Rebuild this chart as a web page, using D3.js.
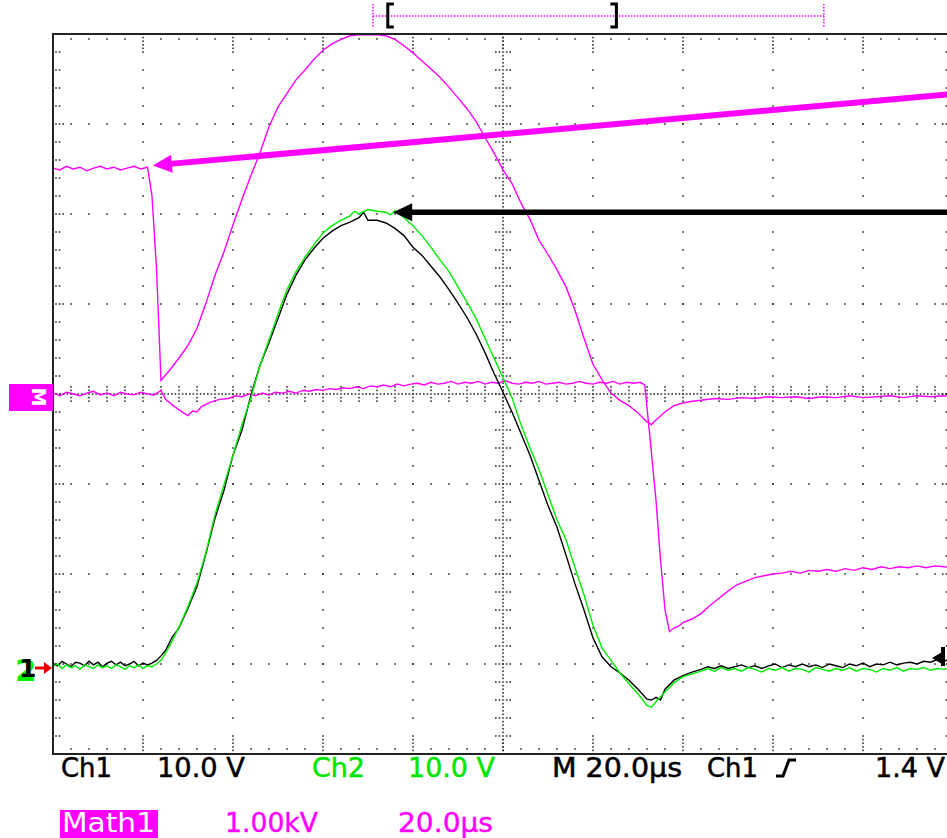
<!DOCTYPE html>
<html lang="en">
<head>
<meta charset="UTF-8">
<title>Scope capture</title>
<script src="https://cdn.jsdelivr.net/npm/d3@7/dist/d3.min.js"></script>
<style>
  body { margin: 0; background: #fff; }
  text { font-family: "DejaVu Sans", "Liberation Sans", sans-serif; }
</style>
</head>
<body>
<svg id="main" width="947" height="838"></svg>
<script>
// time in µs (0 = left edge of screen), Ch1/Ch2 in volts, Math1 in kV
var ch1Trace = [[0,0.1],[1,-0.2],[2,0.3],[3,0],[4,-0.3],[5,0.2],[6,0.1],[7,-0.2],[8,0.3],[9,-0.1],[10,0.2],[11,-0.3],[12,0.1],[13,0.3],[14,-0.1],[15,0.2],[16,-0.2],[17,0],[18,0.3],[19,-0.2],[20,0.1],[21,-0.1],[22,0.1],[23,0.4],[24,0.9],[25,1.5],[26.5,3.0],[28,4.0],[30,6.2],[32,8.6],[34,12.3],[36,16.2],[38,19.3],[40,23.2],[42,26.0],[44,29.9],[46,33.2],[48,35.7],[50,38.4],[52,41.1],[54,43.2],[56,44.9],[58,46.2],[60,47.3],[62,48.1],[64,48.7],[66,49.1],[68,49.6],[69,50.2],[70,49.3],[72,49.3],[74,49.0],[76,48.4],[78,47.6],[80,46.3],[82,45.4],[84,44.2],[86,43.0],[88,41.6],[90,40.1],[92,38.5],[94,36.7],[96,34.6],[98,32.3],[100,30.2],[102,28.0],[104,25.6],[106,23.2],[108,20.4],[110,17.6],[112,15.2],[114,12.1],[116,8.9],[118,6.0],[120,2.9],[122,0.8],[124,-0.3],[126,-1.0],[128,-1.8],[130,-2.8],[132,-3.9],[133,-4.0],[134,-3.7],[135,-4.0],[136,-2.8],[138,-1.8],[140,-1.3],[142,-0.9],[144,-0.6],[145.5,-0.3],[147,-0.5],[148.5,-0.2],[150,-0.5],[151.5,-0.3],[153,-0.1],[154.5,-0.4],[156,-0.2],[157.5,-0.5],[159,-0.2],[160.5,0],[162,-0.4],[163.5,-0.1],[165,-0.3],[166.5,0],[168,-0.3],[169.5,-0.1],[171,-0.4],[172.5,0],[174,-0.2],[175.5,-0.4],[177,0],[178.5,-0.2],[180,0.1],[181.5,-0.3],[183,0],[184.5,-0.1],[186,0.2],[187.5,-0.1],[189,0.1],[190.5,0.2],[192,0],[193.5,0.3],[195,0.2],[196.5,0.5],[198,0.3],[199.5,0.6]];

var ch2Trace = [[0,-0.3],[1,0],[2,-0.5],[3,-0.1],[4,-0.4],[5,-0.2],[6,-0.6],[7,-0.1],[8,-0.3],[9,-0.5],[10,-0.1],[11,-0.4],[12,-0.2],[13,-0.5],[14,-0.1],[15,-0.3],[16,-0.6],[17,-0.2],[18,-0.4],[19,-0.1],[20,-0.5],[21,-0.2],[22,-0.3],[23,0],[24,0.4],[25,1.2],[26,2.1],[28,4.1],[30,6.4],[32,9.0],[34,12.4],[36,16.6],[38,19.9],[40,23.2],[42,26.6],[44,29.6],[46,33.2],[48,36.0],[50,38.9],[52,41.6],[54,43.6],[56,45.2],[58,46.6],[60,47.9],[62,48.7],[64,49.3],[66,49.8],[67,50.3],[68,50.0],[70,50.5],[72,50.3],[74,50.2],[75,49.9],[76,50.4],[78,49.6],[80,48.7],[82,47.6],[84,46.3],[86,44.9],[88,43.6],[90,41.9],[92,40.2],[94,38.4],[96,36.2],[98,34.0],[100,31.8],[102,29.6],[104,26.6],[106,24.0],[108,21.6],[110,18.8],[112,16.0],[114,13.8],[116,10.7],[118,7.7],[120,4.3],[122,1.8],[124,0.4],[126,-1.0],[128,-2.2],[130,-3.3],[132,-4.6],[133,-4.8],[134,-4.2],[136,-3.1],[138,-2.1],[140,-1.4],[142,-1.1],[144,-0.8],[145.5,-0.5],[147,-0.8],[148.5,-0.4],[150,-0.7],[151.5,-0.5],[153,-0.8],[154.5,-0.4],[156,-0.6],[157.5,-0.9],[159,-0.5],[160.5,-0.7],[162,-0.4],[163.5,-0.8],[165,-0.5],[166.5,-0.6],[168,-0.9],[169.5,-0.4],[171,-0.6],[172.5,-0.8],[174,-0.5],[175.5,-0.7],[177,-0.4],[178.5,-0.8],[180,-0.5],[181.5,-0.6],[183,-0.9],[184.5,-0.5],[186,-0.7],[187.5,-0.4],[189,-0.8],[190.5,-0.5],[192,-0.6],[193.5,-0.4],[195,-0.7],[196.5,-0.5],[198,-0.6],[199.5,-0.4]];

var mathTraceA = [[0,2.51],[1.5,2.49],[3,2.53],[4.5,2.50],[6,2.52],[7.5,2.48],[9,2.51],[10.5,2.53],[12,2.50],[13.5,2.52],[15,2.49],[16.5,2.51],[18,2.53],[19.5,2.50],[21,2.52],[22,2.20],[23,1.40],[24,0.15],[24.5,0.18],[26,0.27],[28,0.40],[30,0.54],[32,0.73],[34,1.01],[36,1.32],[38,1.58],[40,1.88],[42,2.16],[44,2.43],[46,2.68],[48,2.97],[50,3.19],[52,3.34],[54,3.49],[56,3.60],[58,3.72],[60,3.82],[62,3.89],[64,3.94],[66,3.98],[68,3.99],[70,3.99],[72,3.99],[74,3.98],[76,3.94],[78,3.87],[80,3.79],[82,3.70],[84,3.61],[86,3.52],[88,3.41],[90,3.29],[92,3.17],[94,3.03],[96,2.85],[98,2.68],[100,2.49],[102,2.34],[104,2.12],[106,1.94],[108,1.71],[110,1.55],[112,1.38],[114,1.19],[116,0.93],[118,0.62],[120,0.33],[122,0.16],[124,0.01],[126,-0.07],[128,-0.13],[130,-0.21],[132,-0.31],[133,-0.34],[134,-0.29],[136,-0.20],[138,-0.13],[140,-0.10],[142,-0.08],[144,-0.07],[147,-0.05],[150,-0.06],[153,-0.04],[156,-0.05],[159,-0.03],[162,-0.04],[165,-0.03],[168,-0.05],[171,-0.03],[174,-0.04],[177,-0.02],[180,-0.04],[183,-0.03],[186,-0.02],[189,-0.04],[192,-0.02],[195,-0.03],[198,-0.02],[200,-0.03]];

var mathTraceB = [[0,0.01],[1.5,-0.02],[3,0.02],[4.5,0],[6,-0.02],[7.5,0.01],[9,0.03],[10.5,-0.01],[12,0.01],[13.5,-0.02],[15,0.02],[16.5,0],[18,-0.01],[19.5,0.02],[21,0],[22.5,-0.01],[24,0.04],[25,-0.06],[27,-0.14],[29,-0.21],[30,-0.24],[31,-0.19],[32,-0.2],[33,-0.14],[35,-0.09],[37,-0.06],[39,-0.05],[40.5,-0.02],[42,-0.03],[43.5,0],[45,-0.02],[46.5,0.01],[48,-0.01],[49.5,0.02],[51,0.01],[52.5,0.03],[54,0.01],[55.5,0.04],[57,0.03],[58.5,0.05],[60,0.04],[61.5,0.06],[63,0.05],[64.5,0.07],[66,0.06],[67.5,0.08],[69,0.06],[70.5,0.09],[72,0.08],[73.5,0.1],[75,0.08],[76.5,0.11],[78,0.09],[79.5,0.11],[81,0.12],[82.5,0.1],[84,0.13],[85.5,0.11],[87,0.12],[88.5,0.14],[90,0.11],[91.5,0.13],[93,0.12],[94.5,0.14],[96,0.11],[97.5,0.13],[99,0.12],[100.5,0.15],[102,0.12],[103.5,0.11],[105,0.13],[106.5,0.12],[108,0.14],[109.5,0.11],[111,0.12],[112.5,0.13],[114,0.11],[115.5,0.12],[117,0.14],[118.5,0.12],[120,0.11],[121.5,0.13],[123,0.12],[124.5,0.14],[126,0.11],[127.5,0.13],[129,0.12],[130.5,0.13],[131.5,0.1],[132.5,-0.40],[134,-1.18],[135,-1.84],[136,-2.40],[137,-2.64],[138,-2.60],[139,-2.58],[140,-2.54],[142,-2.50],[144,-2.44],[146,-2.35],[148,-2.27],[150,-2.19],[152,-2.12],[154,-2.08],[156,-2.04],[158,-2.02],[160,-2.0],[162,-1.99],[164,-1.97],[166,-1.99],[168,-1.96],[170,-1.97],[172,-1.95],[174,-1.97],[176,-1.94],[178,-1.96],[180,-1.93],[182,-1.95],[184,-1.92],[186,-1.94],[188,-1.92],[190,-1.93],[192,-1.91],[194,-1.93],[196,-1.91],[198,-1.92],[200,-1.93]];

// annotation arrows: [tail, tip] in data units
var mathArrow = [[199, 3.33], [22.2, 2.54]];
var ch2Arrow = [[199, 50.2], [75.6, 50.2]];
var viewSpan = [71.1, 171.3];      // record view bar at top
var viewBrackets = [74.4, 125.2];
var triggerLevel = 1.0;

var bottomLabels = [
  {t: "Ch1", x: 61, w: 51, c: "#000"},
  {t: "10.0 V", x: 157, w: 88, c: "#000"},
  {t: "Ch2", x: 312, w: 53, c: "#00e600"},
  {t: "10.0 V", x: 408, w: 87, c: "#00e600"},
  {t: "M 20.0\u00b5s", x: 552, w: 130, c: "#000"},
  {t: "Ch1", x: 707, w: 51, c: "#000"},
  {t: "1.4 V", x: 875, w: 70, c: "#000"}
];
var mathLabels = [
  {t: "1.00kV", x: 225, w: 93},
  {t: "20.0\u00b5s", x: 398, w: 95}
];

var svg = d3.select('svg#main');
var xLeft = 53, yTop = 34, div = 90;
var x = d3.scaleLinear().domain([0, 200]).range([xLeft, xLeft + 10 * div]);
var yCh = d3.scaleLinear().domain([-10, 70]).range([yTop + 8 * div, yTop]);
var yMath = d3.scaleLinear().domain([-4, 4]).range([yTop + 8 * div, yTop]);
var yBot = yCh(-10), xRight = x(200);
var MAG = "#ff00ff", GRN = "#00ee00";

svg.append("rect").attr("width", 947).attr("height", 838).attr("fill", "#fff");

// ---- graticule dots
var dots = [];
var majX = d3.range(20, 200, 20), majV = d3.range(0, 70, 10);
var minX = d3.range(4, 200, 4), minV = d3.range(-8, 70, 2);
majX.forEach(function(t) {
  if (t === 100) return;
  minV.forEach(function(v) { dots.push([x(t), yCh(v)]); });
});
majV.forEach(function(v) {
  if (v === 30) return;
  minX.forEach(function(t) { dots.push([x(t), yCh(v)]); });
});
// centre cross, dense
d3.range(0.8, 200, 0.8).forEach(function(t) { dots.push([x(t), yCh(30)]); });
d3.range(-9.6, 70, 0.4).forEach(function(v) { dots.push([x(100), yCh(v)]); });
minX.forEach(function(t) { [-7.2, -3.6, 3.6, 7.2].forEach(function(o) { dots.push([x(t), yCh(30) + o]); }); });
minV.forEach(function(v) { [-7.2, -3.6, 3.6, 7.2].forEach(function(o) { dots.push([x(100) + o, yCh(v)]); }); });
// edge ticks
minX.forEach(function(t) {
  var maj = t % 20 === 0;
  (maj ? [3.6, 7.2, 10.8, 14.4] : [5]).forEach(function(o) {
    dots.push([x(t), yTop + o]); dots.push([x(t), yBot - o]);
  });
});
minV.forEach(function(v) {
  var maj = v % 10 === 0;
  (maj ? [3, 6.6, 10.2] : [3, 6.6]).forEach(function(o) {
    dots.push([xLeft + o, yCh(v)]); dots.push([xRight - o, yCh(v)]);
  });
});

svg.append("g").selectAll("rect").data(dots).enter().append("rect")
  .attr("x", function(d) { return d[0] - 0.8; })
  .attr("y", function(d) { return d[1] - 0.8; })
  .attr("width", 1.6).attr("height", 1.6)
  .attr("fill", "#333");

// ---- traces
svg.append("clipPath").attr("id", "scr").append("rect")
  .attr("x", xLeft).attr("y", yTop - 2).attr("width", xRight - xLeft).attr("height", yBot - yTop + 2);

var lineCh = d3.line().x(function(d) { return x(d[0]); }).y(function(d) { return yCh(d[1]); });
var lineMath = d3.line().x(function(d) { return x(d[0]); }).y(function(d) { return yMath(d[1]); });

var tr = svg.append("g").attr("clip-path", "url(#scr)").attr("fill", "none").attr("stroke-width", 1.4);
tr.append("path").attr("d", lineMath(mathTraceB)).attr("stroke", MAG);
tr.append("path").attr("d", lineMath(mathTraceA)).attr("stroke", MAG);
tr.append("path").attr("d", lineCh(ch1Trace)).attr("stroke", "#000");
tr.append("path").attr("d", lineCh(ch2Trace)).attr("stroke", GRN);

// ---- frame
svg.append("path")
  .attr("d", "M" + xRight + "," + yTop + "H" + xLeft + "V" + yBot + "H" + xRight)
  .attr("fill", "none").attr("stroke", "#222").attr("stroke-width", 2);

// ---- annotation arrows
function arrow(p0, p1, color, width, head, half) {
  var dx = p1[0] - p0[0], dy = p1[1] - p0[1], L = Math.sqrt(dx * dx + dy * dy);
  var ux = dx / L, uy = dy / L;
  var bx = p1[0] - ux * head, by = p1[1] - uy * head;
  svg.append("line").attr("x1", p0[0]).attr("y1", p0[1]).attr("x2", bx + ux * 2).attr("y2", by + uy * 2)
    .attr("stroke", color).attr("stroke-width", width);
  svg.append("polygon").attr("fill", color)
    .attr("points", [[p1[0], p1[1]], [bx - uy * half, by + ux * half], [bx + uy * half, by - ux * half]].join(" "));
}
arrow([x(mathArrow[0][0]), yMath(mathArrow[0][1])], [x(mathArrow[1][0]), yMath(mathArrow[1][1])], MAG, 6, 19, 9);
arrow([x(ch2Arrow[0][0]), yCh(ch2Arrow[0][1])], [x(ch2Arrow[1][0]), yCh(ch2Arrow[1][1])], "#000", 5.5, 19, 9);

// ---- record view bar
var vb = svg.append("g");
vb.append("line").attr("x1", x(viewSpan[0])).attr("x2", x(viewSpan[1])).attr("y1", 16).attr("y2", 16)
  .attr("stroke", MAG).attr("stroke-width", 1.5).attr("stroke-dasharray", "1.5,1.5");
viewSpan.forEach(function(t) {
  vb.append("line").attr("x1", x(t)).attr("x2", x(t)).attr("y1", 4).attr("y2", 28)
    .attr("stroke", MAG).attr("stroke-width", 1.5).attr("stroke-dasharray", "1.5,1.5");
});
vb.append("path").attr("d", "M" + (x(viewBrackets[0]) + 6) + ",4H" + x(viewBrackets[0]) + "V27H" + (x(viewBrackets[0]) + 6))
  .attr("fill", "none").attr("stroke", "#000").attr("stroke-width", 3);
vb.append("path").attr("d", "M" + (x(viewBrackets[1]) - 6) + ",4H" + x(viewBrackets[1]) + "V27H" + (x(viewBrackets[1]) - 6))
  .attr("fill", "none").attr("stroke", "#000").attr("stroke-width", 3);

// ---- ground / math markers on the left
var g0 = yCh(0);
svg.append("text").attr("x", 15).attr("y", g0 + 17).attr("font-size", 31).attr("font-weight", "bold")
  .attr("fill", GRN).text("2");
svg.append("text").attr("x", 19).attr("y", g0 + 13).attr("font-size", 25).attr("font-weight", "bold")
  .attr("fill", "#000").text("1");
svg.append("line").attr("x1", 35).attr("x2", 46).attr("y1", g0 + 4).attr("y2", g0 + 4)
  .attr("stroke", "#e00000").attr("stroke-width", 3);
svg.append("polygon").attr("fill", "#e00000")
  .attr("points", [[52, g0 + 4], [44, g0 - 2], [44, g0 + 10]].join(" "));

var m0 = yMath(0);
svg.append("rect").attr("x", 9).attr("y", m0 - 10).attr("width", xLeft - 9).attr("height", 27).attr("fill", MAG);
svg.append("text").attr("transform", "translate(32," + (m0 + 3) + ") rotate(90)")
  .attr("text-anchor", "middle").attr("font-size", 19).attr("font-weight", "bold").attr("fill", "#fff").text("M");

// trigger level marker at the right edge
var tl = yCh(triggerLevel);
svg.append("rect").attr("x", 941).attr("y", tl - 8).attr("width", 4).attr("height", 19).attr("fill", "#000");
svg.append("polygon").attr("fill", "#000").attr("points", [[932, tl + 3], [942, tl - 3], [942, tl + 9]].join(" "));

// ---- readouts
svg.append("g").selectAll("text").data(bottomLabels).enter().append("text")
  .attr("x", function(d) { return d.x; }).attr("y", 777)
  .attr("font-size", 26).attr("fill", function(d) { return d.c; })
  .attr("stroke", function(d) { return d.c; }).attr("stroke-width", 0.5)
  .attr("textLength", function(d) { return d.w; }).attr("lengthAdjust", "spacingAndGlyphs")
  .text(function(d) { return d.t; });
// trigger slope symbol
svg.append("path").attr("d", "M776,776H783L789,760H796").attr("fill", "none").attr("stroke", "#000").attr("stroke-width", 3);

svg.append("rect").attr("x", 60).attr("y", 810).attr("width", 98).attr("height", 28).attr("fill", MAG);
svg.append("text").attr("x", 62).attr("y", 832).attr("font-size", 26).attr("fill", "#fff")
  .attr("textLength", 93).attr("lengthAdjust", "spacingAndGlyphs").text("Math1");
svg.append("g").selectAll("text").data(mathLabels).enter().append("text")
  .attr("x", function(d) { return d.x; }).attr("y", 832)
  .attr("font-size", 26).attr("fill", MAG).attr("stroke", MAG).attr("stroke-width", 0.4)
  .attr("textLength", function(d) { return d.w; }).attr("lengthAdjust", "spacingAndGlyphs")
  .text(function(d) { return d.t; });
</script>
</body>
</html>
